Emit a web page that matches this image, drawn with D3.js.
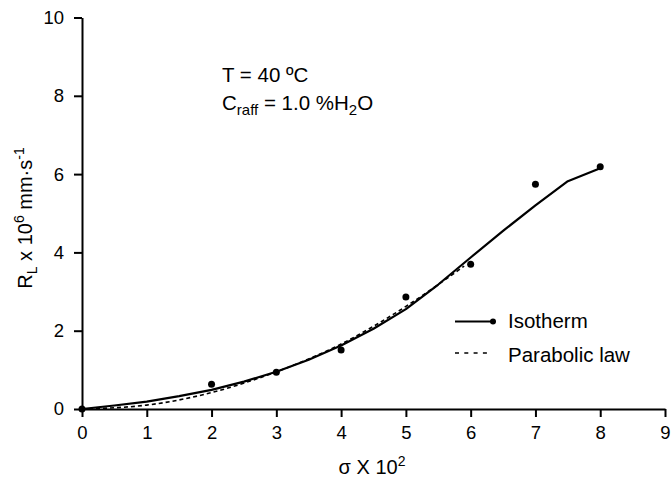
<!DOCTYPE html>
<html>
<head>
<meta charset="utf-8">
<script src="https://cdn.jsdelivr.net/npm/d3@7"></script>
<style>
  body { margin: 0; background: #fff; }
  svg text { font-family: "Liberation Sans", Arial, sans-serif; fill: #000; }
</style>
</head>
<body>
<div id="chart"></div>
<script>
"use strict";

// measured points (sigma x 10^2, R_L x 10^6)
const measuredX = [0, 2, 3, 4, 5, 6, 7, 8];
const measuredY = [0, 0.63, 0.94, 1.51, 2.86, 3.70, 5.74, 6.19];

// isotherm curve
const isothermX = [0, 0.5, 1, 1.5, 2, 2.5, 3, 3.5, 4, 4.5, 5, 5.5, 6, 6.5, 7, 7.5, 8];
const isothermY = [0, 0.09, 0.19, 0.33, 0.49, 0.7, 0.95, 1.26, 1.62, 2.05, 2.55, 3.18, 3.87, 4.55, 5.2, 5.82, 6.15];

// parabolic law (dashed)
const parabolicX = [0, 1, 2, 3, 4, 5, 5.9];
const parabolicY = [0, 0.1, 0.42, 0.95, 1.66, 2.62, 3.65];

const xTicks = [0, 1, 2, 3, 4, 5, 6, 7, 8, 9];
const yTicks = [0, 2, 4, 6, 8, 10];

const width = 671, height = 480;
const margin = { left: 82, right: 6, top: 17.5, bottom: 71 };

const svg = d3.select("#chart").append("svg")
    .attr("width", width)
    .attr("height", height);

const x = d3.scaleLinear().domain([0, 9]).range([margin.left, width - margin.right]);
const y = d3.scaleLinear().domain([0, 10]).range([height - margin.bottom, margin.top]);

// axes
const xAxis = svg.append("g")
    .attr("transform", `translate(0,${y(0)})`)
    .call(d3.axisBottom(x).tickValues(xTicks).tickSize(8).tickPadding(9).tickSizeOuter(0));
const yAxis = svg.append("g")
    .attr("transform", `translate(${x(0)},0)`)
    .call(d3.axisLeft(y).tickValues(yTicks).tickSize(8).tickPadding(10).tickSizeOuter(0));

[xAxis, yAxis].forEach(a => {
    a.select(".domain").attr("stroke", "#000").attr("stroke-width", 2);
    a.selectAll(".tick line").attr("stroke", "#000").attr("stroke-width", 2);
    a.selectAll(".tick text").style("font-size", "18.5px").attr("fill", "#000");
});

// lines
const iso = isothermX.map((v, i) => [v, isothermY[i]]);
const par = parabolicX.map((v, i) => [v, parabolicY[i]]);
const line = d3.line().x(d => x(d[0])).y(d => y(d[1]));

svg.append("path").datum(par)
    .attr("d", line.curve(d3.curveMonotoneX))
    .attr("fill", "none")
    .attr("stroke", "#000")
    .attr("stroke-width", 1.6)
    .attr("stroke-dasharray", "4,3");

svg.append("path").datum(iso)
    .attr("d", line.curve(d3.curveLinear))
    .attr("fill", "none")
    .attr("stroke", "#000")
    .attr("stroke-width", 2.2)
    .attr("stroke-linejoin", "round");

svg.append("g").selectAll("circle")
    .data(measuredX.map((v, i) => [v, measuredY[i]]))
    .join("circle")
    .attr("cx", d => x(d[0]))
    .attr("cy", d => y(d[1]))
    .attr("r", 3.5)
    .attr("fill", "#000");

// annotation
const note = svg.append("g").style("font-size", "20.5px");
note.append("text").attr("x", 222).attr("y", 82).text("T = 40 ºC");
const c = note.append("text").attr("x", 222).attr("y", 110);
c.append("tspan").text("C");
c.append("tspan").attr("dy", 5).style("font-size", "15px").text("raff");
c.append("tspan").attr("dy", -5).text(" = 1.0 %H");
c.append("tspan").attr("dy", 5).style("font-size", "15px").text("2");
c.append("tspan").attr("dy", -5).text("O");

// legend
const lg = svg.append("g").style("font-size", "20.5px");
lg.append("line").attr("x1", 455).attr("x2", 493).attr("y1", 321.5).attr("y2", 321.5)
    .attr("stroke", "#000").attr("stroke-width", 2);
lg.append("circle").attr("cx", 493).attr("cy", 321.5).attr("r", 3).attr("fill", "#000");
lg.append("text").attr("x", 508).attr("y", 328).text("Isotherm");
lg.append("line").attr("x1", 455).attr("x2", 487).attr("y1", 353).attr("y2", 353)
    .attr("stroke", "#000").attr("stroke-width", 1.6).attr("stroke-dasharray", "4,5.3");
lg.append("text").attr("x", 508).attr("y", 362).text("Parabolic law");

// axis titles
const xt = svg.append("text").attr("x", 372).attr("y", 474)
    .attr("text-anchor", "middle").style("font-size", "20px");
xt.append("tspan").text("σ X 10");
xt.append("tspan").attr("dy", -8).style("font-size", "14px").text("2");

const yt = svg.append("text")
    .attr("transform", `translate(32,218) rotate(-90)`)
    .attr("text-anchor", "middle").style("font-size", "20px");
yt.append("tspan").text("R");
yt.append("tspan").attr("dy", 5).style("font-size", "14px").text("L");
yt.append("tspan").attr("dy", -5).text(" x 10");
yt.append("tspan").attr("dy", -8).style("font-size", "14px").text("6");
yt.append("tspan").attr("dy", 8).text(" mm·s");
yt.append("tspan").attr("dy", -8).style("font-size", "14px").text("-1");
</script>
</body>
</html>
